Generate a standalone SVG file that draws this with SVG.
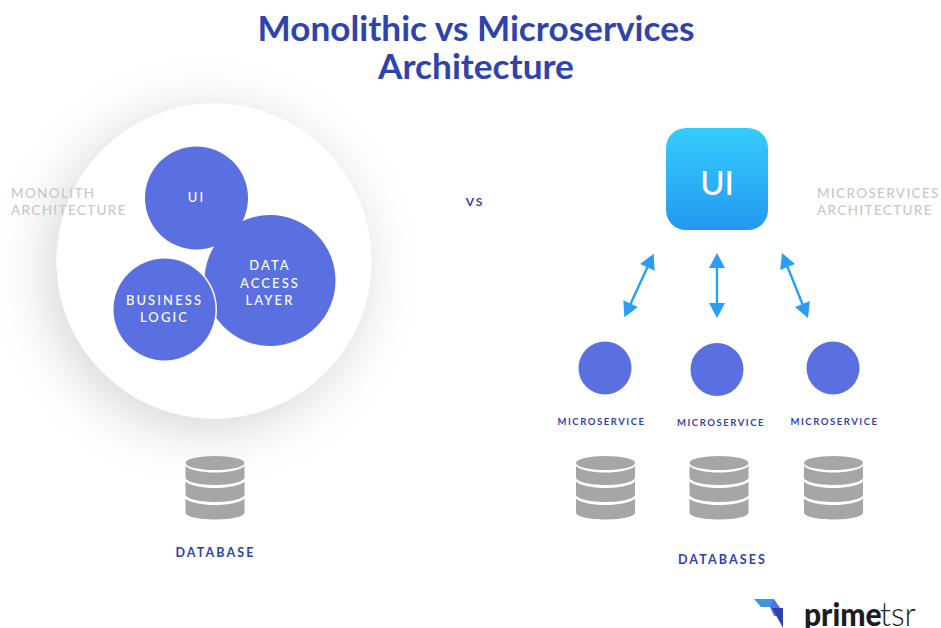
<svg xmlns="http://www.w3.org/2000/svg" width="941" height="628" viewBox="0 0 941 628">
<style>
text{font-family:Lato,"Open Sans",sans-serif;text-anchor:middle}
.title{font-size:35.2px;font-weight:700;fill:#2f43ad}
.blob{fill:#5a6fe0}
.in{font-size:13px;font-weight:500;fill:#fff;letter-spacing:2.1px}
.grey{font-size:13.500px;font-weight:500;fill:#c8c8c8;letter-spacing:1.35px;text-anchor:start}
.ms{font-size:9.500px;font-weight:700;fill:#2f43ad;letter-spacing:1.55px}
.db{font-size:12.500px;font-weight:700;fill:#2f43ad;letter-spacing:2.1px}
.ar{stroke:#2a9df4;stroke-width:2.400;fill:none}
.hd{fill:#2a9df4}
.cyl{fill:#a6a6a6}
</style>
<defs>
<linearGradient id="uig" x1="0" y1="0" x2="0" y2="1"><stop offset="0" stop-color="#35cdfb"/><stop offset="1" stop-color="#2299f2"/></linearGradient>
<filter id="sh" x="-40%" y="-40%" width="180%" height="180%"><feDropShadow dx="-8" dy="10" stdDeviation="27" flood-color="#000" flood-opacity="0.17"/></filter>
<g id="cyl">
<path class="cyl" d="M-29.500 28.500v14c0 4 13 7 29.500 7s29.500-3 29.500-7v-14c-4 4-16 6.500-29.500 6.500s-25.500-2.500-29.500-6.500z"/>
<path class="cyl" d="M-29.500 11.500v13c0 4 13 7.500 29.500 7.500s29.500-3.500 29.500-7.500v-13c-4 4-16 6.500-29.500 6.500s-25.500-2.500-29.500-6.500z"/>
<path class="cyl" d="M-29.500 -4v11.500c0 4 13 7.500 29.500 7.500s29.500-3.500 29.500-7.500v-11.500c-4 4-16 6.500-29.500 6.500s-25.500-2.500-29.500-6.500z"/>
<ellipse class="cyl" cx="0" cy="-7" rx="29.500" ry="7"/>
</g>
<g id="dbl"><path class="ar" d="M0 -28V28"/><path class="hd" d="M0 -35l8 15h-16zM0 35l8-15h-16z"/></g>
<g id="dblv"><path class="ar" d="M0 -26V26"/><path class="hd" d="M0 -32.500l8 15h-16zM0 32.500l8-15h-16z"/></g>
</defs>
<text class="title" x="476" y="41">Monolithic vs Microservices</text>
<text class="title" x="476" y="79">Architecture</text>
<g id="monolith">
<circle cx="214" cy="261" r="157.500" fill="#fff" filter="url(#sh)"/>
</g>
<g id="monolith-label"><text class="grey" x="11" y="197.500">MONOLITH</text><text class="grey" x="11" y="215">ARCHITECTURE</text></g>
<g id="ui-blob"><circle class="blob" cx="196.500" cy="198" r="51.500"/><text class="in" x="196.500" y="202">UI</text></g>
<g id="data-blob"><circle class="blob" cx="270" cy="280.500" r="65.500"/><text class="in" x="270" y="269.500">DATA</text><text class="in" x="270" y="287.500">ACCESS</text><text class="in" x="270" y="305">LAYER</text></g>
<g id="logic-blob"><circle cx="164.500" cy="309.500" r="52.500" fill="#fff"/><circle class="blob" cx="164.500" cy="309.500" r="51"/><text class="in" x="164.500" y="304.500">BUSINESS</text><text class="in" x="164.500" y="322">LOGIC</text></g>
<g id="database"><use href="#cyl" x="215" y="470"/><text class="db" x="215.500" y="557">DATABASE</text></g>
<text id="vs" x="475" y="206" style="font-size:12px;font-weight:700;fill:#2f43ad;letter-spacing:2px">VS</text>
<g id="ui"><rect x="666" y="128" width="102" height="102" rx="20" fill="url(#uig)"/><text x="717" y="194.500" style="font-size:33px;font-weight:500;fill:#fff">UI</text></g>
<g id="ms-label"><text class="grey" x="817" y="197.500">MICROSERVICES</text><text class="grey" x="817" y="215">ARCHITECTURE</text></g>
<g id="connectors">
<use href="#dbl" transform="translate(639 285.500) rotate(24.800)"/>
<use href="#dblv" transform="translate(717 285.500)"/>
<use href="#dbl" transform="translate(795 285.500) rotate(-21.800)"/>
</g>
<g id="ms1"><circle class="blob" cx="605" cy="368" r="26.500"/><text class="ms" x="601.500" y="425">MICROSERVICE</text><use href="#cyl" x="605.500" y="470"/></g>
<g id="ms2"><circle class="blob" cx="717" cy="369.500" r="26.500"/><text class="ms" x="721" y="426">MICROSERVICE</text><use href="#cyl" x="719" y="470"/></g>
<g id="ms3"><circle class="blob" cx="833" cy="368" r="26.500"/><text class="ms" x="834.500" y="425">MICROSERVICE</text><use href="#cyl" x="833.500" y="470"/></g>
<text id="databases" class="db" x="722.500" y="564">DATABASES</text>
<g id="logo">
<path d="M754 599h20l4 8h-17z" fill="#3f96dc"/>
<path d="M774 599l9 13v4h-9l-4-9z" fill="#5b6fe6"/>
<path d="M772 608h11v20z" fill="#2f43ad"/>
<text transform="translate(804 625.500) scale(1 1.100)" style="font-size:30px;font-weight:900;fill:#1c1c22;text-anchor:start">prime</text>
<text transform="translate(880 625.500) scale(1 1.050)" style="font-size:32px;font-weight:300;fill:#1c1c22;text-anchor:start">tsr</text>
</g>
</svg>
